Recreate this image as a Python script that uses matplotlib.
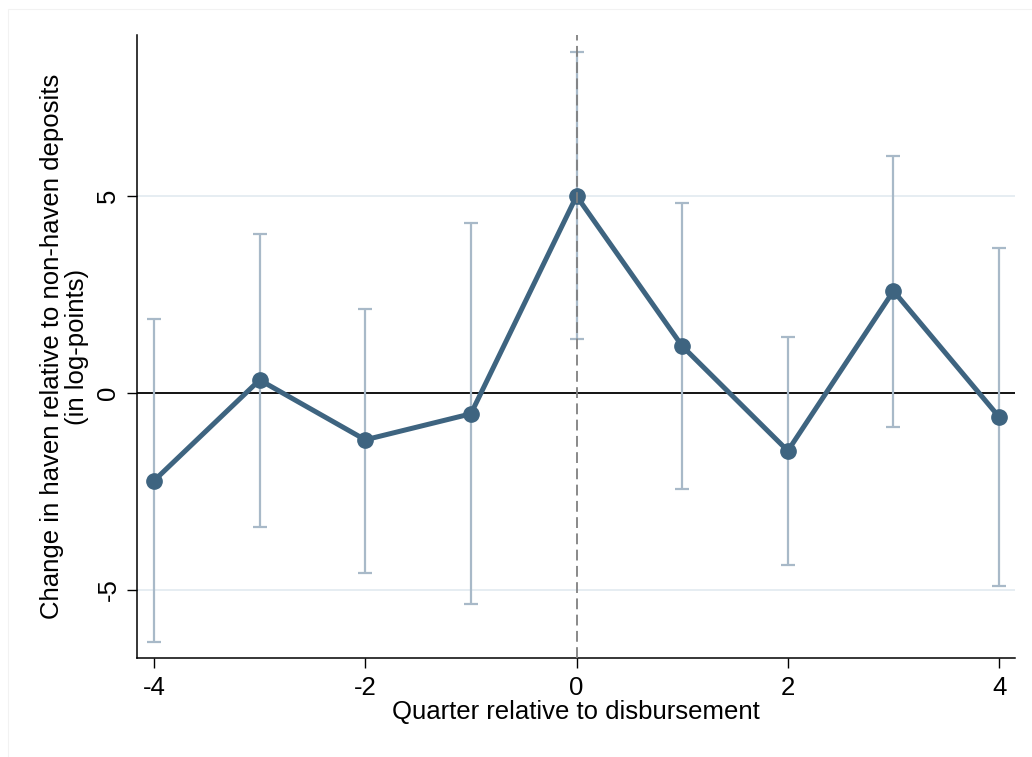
import matplotlib
matplotlib.use("Agg")
import matplotlib.pyplot as plt
from matplotlib.patches import Rectangle
import numpy as np

plt.rcParams['font.family'] = ['Liberation Sans', 'DejaVu Sans']
plt.rcParams['axes.unicode_minus'] = False

quarters = [-4, -3, -2, -1, 0, 1, 2, 3, 4]
estimate = [-2.23, 0.33, -1.19, -0.53, 5.00, 1.19, -1.47, 2.59, -0.61]
ci_upper = [1.88, 4.04, 2.14, 4.31, 8.65, 4.82, 1.42, 6.02, 3.68]
ci_lower = [-6.32, -3.40, -4.57, -5.36, 1.37, -2.44, -4.37, -0.86, -4.90]
xticks = [-4, -2, 0, 2, 4]
yticks = [-5, 0, 5]

line_color = '#3e6480'
ci_color = '#a8b9c8'
grid_color = '#e4ecf1'
fs = 18.5

fig = plt.figure(figsize=(10.32, 7.57), dpi=100)

# faint outer frame of the graph region
fig.add_artist(Rectangle((0.0078, -0.01), 1.0, 0.998, transform=fig.transFigure,
                         fill=False, edgecolor='#f2f2f2', lw=0.8))

ax = fig.add_axes([0.1328, 0.1308, 0.8507, 0.8230])

for y in yticks:
    if y != 0:
        ax.axhline(y, color=grid_color, lw=1.3, zorder=0)
ax.axhline(0, color='black', lw=1.3, zorder=1)
ax.axvline(0, color='#808080', lw=1.3, ls=(0, (6, 3)), zorder=4)

est = np.array(estimate)
err = np.vstack([est - np.array(ci_lower), np.array(ci_upper) - est])
ax.errorbar(quarters, est, yerr=err, fmt='none', ecolor=ci_color,
            elinewidth=1.6, capsize=5, capthick=1.6, zorder=2)
ax.plot(quarters, est, color=line_color, lw=3.6, marker='o', ms=11,
        zorder=3)

ax.set_xlim(-4.16, 4.15)
ax.set_ylim(-6.73, 9.09)
ax.set_xticks(xticks)
ax.set_yticks(yticks)
ax.tick_params(axis='both', labelsize=fs, length=7, width=1.0,
               direction='out', colors='black')
ax.tick_params(axis='x', pad=6)
ax.tick_params(axis='y', pad=5)
for lab in ax.get_yticklabels():
    lab.set_rotation(90)
    lab.set_va('center')

for s in ['top', 'right']:
    ax.spines[s].set_visible(False)
for s in ['left', 'bottom']:
    ax.spines[s].set_linewidth(1.1)

ax.set_xlabel('Quarter relative to disbursement', fontsize=fs, labelpad=0)
ax.set_ylabel('Change in haven relative to non-haven deposits\n(in log-points)',
              fontsize=fs, labelpad=5, linespacing=1.05)

fig.savefig('out.png', dpi=100)
